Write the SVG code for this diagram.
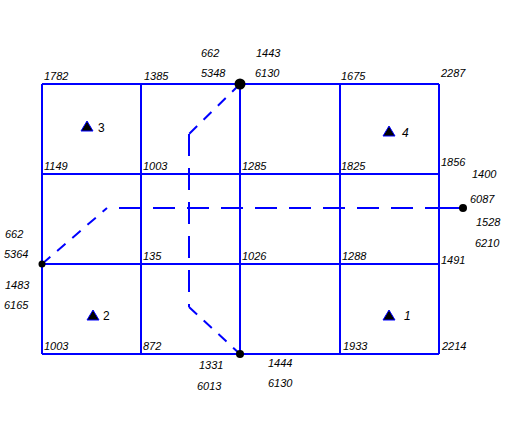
<svg xmlns="http://www.w3.org/2000/svg" width="516" height="440" viewBox="0 0 516 440">
<style>
.g{stroke:#0000ff;stroke-width:2;fill:none}
.d{stroke:#0000ff;stroke-width:2;fill:none;stroke-dasharray:22 12}
.ds{stroke:#0000ff;stroke-width:2;fill:none;stroke-dasharray:11 9}
.t{font-family:"Liberation Sans",Arial,sans-serif;font-size:11px;font-style:italic;fill:#000}
.n{font-family:"Liberation Sans",Arial,sans-serif;font-size:12px;fill:#000}
.tri{fill:#000;stroke:#0000ff;stroke-width:1}
</style>
<rect width="516" height="440" fill="#fff"/>
<g id="grid">
<path class="g" d="M42 84H439M42 174H439M42 264H439M42 354H439M42 84V354M141 84V354M240 84V354M340 84V354M439 84V354"/>
</g>
<g id="connectors">
<line class="ds" x1="240" y1="84" x2="189" y2="134"/>
<line class="d" x1="189" y1="134" x2="189" y2="307"/>
<line class="ds" x1="189" y1="307" x2="240" y2="354"/>
<line class="ds" x1="42" y1="264" x2="107" y2="208"/>
<line class="d" x1="119" y1="208" x2="439" y2="208"/>
<line class="g" x1="439" y1="208" x2="463" y2="208"/>
</g>
<g id="points">
<circle cx="240" cy="84" r="5.5" fill="#000"/>
<circle cx="42" cy="264" r="3.5" fill="#000"/>
<circle cx="240" cy="354" r="4" fill="#000"/>
<circle cx="463" cy="208" r="4" fill="#000"/>
</g>
<g id="stations">
<g id="s3"><polygon class="tri" points="87,121 81,131 93,131"/><text class="n" x="98" y="132">3</text></g>
<g id="s4"><polygon class="tri" points="389,126 383,136 395,136"/><text class="n" x="402" y="137" font-style="italic">4</text></g>
<g id="s2"><polygon class="tri" points="93,310 87,320 99,320"/><text class="n" x="103" y="320">2</text></g>
<g id="s1"><polygon class="tri" points="389,310 383,320 395,320"/><text class="n" x="404" y="320" font-style="italic">1</text></g>
</g>
<g id="labels" class="t">
<text x="201" y="57">662</text><text x="201" y="77">5348</text>
<text x="256" y="57">1443</text><text x="255" y="77">6130</text>
<text x="44" y="80">1782</text><text x="144" y="80">1385</text><text x="341" y="80">1675</text><text x="441" y="77">2287</text>
<text x="44" y="170">1149</text><text x="143" y="170">1003</text><text x="242" y="170">1285</text><text x="341" y="170">1825</text><text x="441" y="166">1856</text>
<text x="472" y="178">1400</text><text x="470" y="203">6087</text><text x="476" y="226">1528</text><text x="475" y="247">6210</text>
<text x="5" y="238">662</text><text x="4" y="258">5364</text><text x="5" y="289">1483</text><text x="4" y="309">6165</text>
<text x="143" y="260">135</text><text x="242" y="260">1026</text><text x="342" y="260">1288</text><text x="441" y="264">1491</text>
<text x="44" y="350">1003</text><text x="143" y="350">872</text><text x="343" y="350">1933</text><text x="442" y="350">2214</text>
<text x="199" y="369">1331</text><text x="197" y="390">6013</text>
<text x="268" y="367">1444</text><text x="268" y="387">6130</text>
</g>
</svg>
